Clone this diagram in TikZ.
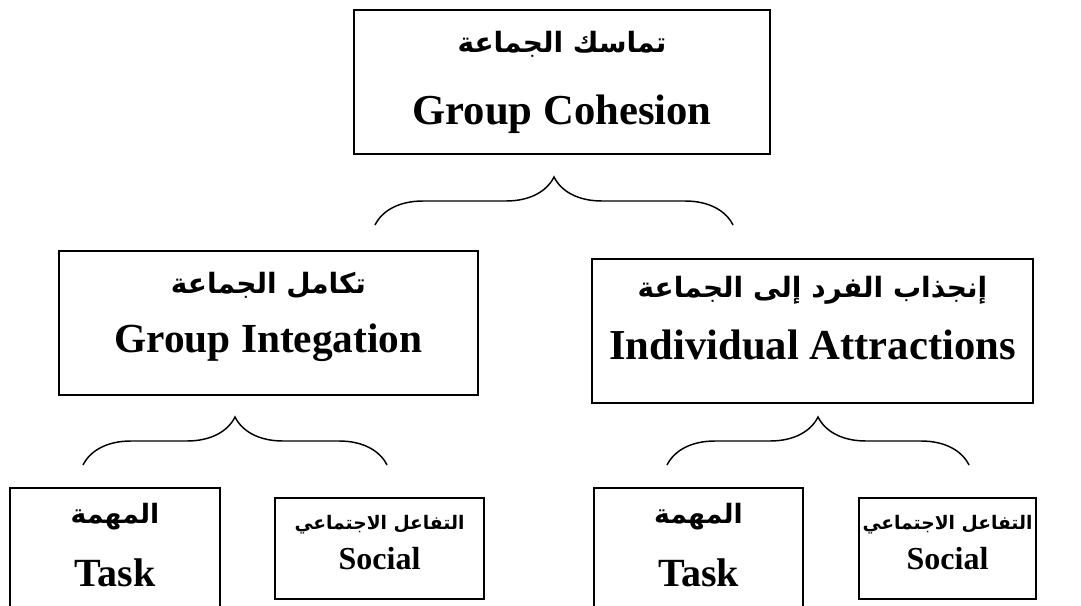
\documentclass[tikz,border=0pt]{standalone}
\usepackage{fontspec}
\setmainfont{Liberation Serif}
\newfontfamily\arabicfont[Script=Arabic]{DejaVu Sans}
\usetikzlibrary{decorations.pathreplacing}
\TeXXeTstate=1
\newcommand{\arsize}[1]{\arabicfont\bfseries\fontsize{#1}{#1}\selectfont}

\begin{document}
\begin{tikzpicture}[x=0.75pt, y=-0.75pt,
  box/.style={draw, line width=1.5pt, inner sep=0pt, align=center, anchor=north west},
  curly/.style={decorate, decoration={brace, amplitude=36pt}, line width=1.1pt}]
  \useasboundingbox (0,0) rectangle (1081,606);
  \clip (0,0) rectangle (1081,606);

  \node[box, minimum width=312pt, text height=86.25pt, text depth=21.75pt,
        font=\bfseries\fontsize{32}{54}\selectfont] (cohesion) at (353,9)
        {{\arsize{21}\beginR تماسك الجماعة\endR}\\Group Cohesion};

  \node[box, minimum width=314.25pt, text height=75.75pt, text depth=32.25pt,
        font=\bfseries\fontsize{31}{44}\selectfont] (integ) at (58,250)
        {{\arsize{21}\beginR تكامل الجماعة\endR}\\Group Integation};
  \node[box, minimum width=330.75pt, text height=75pt, text depth=33pt,
        font=\bfseries\fontsize{32}{46}\selectfont] (attract) at (591,258)
        {{\arsize{21}\beginR إنجذاب الفرد إلى الجماعة\endR}\\Individual Attractions};

  \node[box, minimum width=157.5pt, text height=73.5pt, text depth=41.25pt,
        font=\bfseries\fontsize{30}{47}\selectfont] (taskL) at (9,487)
        {{\arsize{20}\beginR المهمة\endR}\\Task};
  \node[box, minimum width=156.75pt, text height=53.25pt, text depth=22.5pt,
        font=\bfseries\fontsize{24}{30}\selectfont] (socialL) at (274,497)
        {{\arsize{14}\beginR التفاعل الاجتماعي\endR}\\Social};
  \node[box, minimum width=156.75pt, text height=73.5pt, text depth=41.25pt,
        font=\bfseries\fontsize{30}{47}\selectfont] (taskR) at (593,487)
        {{\arsize{20}\beginR المهمة\endR}\\Task};
  \node[box, minimum width=132.75pt, text height=53.25pt, text depth=22.5pt,
        font=\bfseries\fontsize{24}{30}\selectfont] (socialR) at (858,497)
        {{\arsize{14}\beginR التفاعل الاجتماعي\endR}\\Social};

  \coordinate (topL) at (375,225);
  \coordinate (topR) at (733,225);
  \coordinate (integL) at (83,465);
  \coordinate (integR) at (387,465);
  \coordinate (attractL) at (667,465);
  \coordinate (attractR) at (969,465);
  \draw[curly] (topL) -- (topR);
  \draw[curly] (integL) -- (integR);
  \draw[curly] (attractL) -- (attractR);
\end{tikzpicture}
\end{document}
